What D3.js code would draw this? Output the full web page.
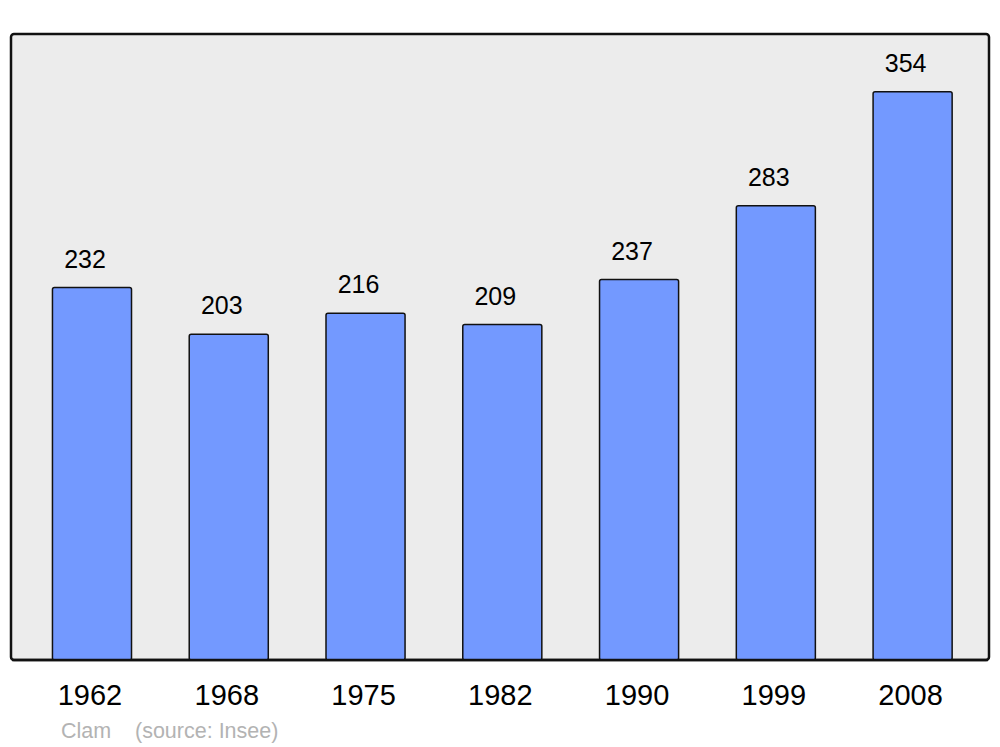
<!DOCTYPE html>
<html>
<head>
<meta charset="utf-8">
<script src="https://cdn.jsdelivr.net/npm/d3@7"></script>
<style>
html,body{margin:0;padding:0;background:#fff;}
svg{display:block;}
text{font-family:"Liberation Sans",Arial,sans-serif;}
</style>
</head>
<body>
<svg id="chart" width="1000" height="747"></svg>
<script>
const years = ["1962","1968","1975","1982","1990","1999","2008"];
const population = [232,203,216,209,237,283,354];
const sourceLabel = "Clam";
const sourceNote = "(source: Insee)";

const svg = d3.select("#chart");
const panel = {x0: 11, x1: 989, y0: 34, y1: 660};

svg.append("rect")
  .attr("x", panel.x0).attr("y", panel.y0)
  .attr("width", panel.x1 - panel.x0).attr("height", panel.y1 - panel.y0)
  .attr("rx", 3).attr("ry", 3)
  .attr("fill", "#ececec").attr("stroke", "#111").attr("stroke-width", 2.5);

const x = d3.scaleBand().domain(years).range([23.6, 981]).paddingInner(0.422).paddingOuter(0.211);
const y = d3.scaleLinear().domain([0, 390]).range([panel.y1, panel.y0]);

const data = years.map((yr, i) => ({year: yr, value: population[i]}));

svg.selectAll("rect.bar").data(data).enter().append("rect")
  .attr("class", "bar")
  .attr("x", d => x(d.year)).attr("y", d => y(d.value))
  .attr("width", x.bandwidth()).attr("height", d => y(0) - y(d.value))
  .attr("rx", 2).attr("ry", 2)
  .attr("fill", "#7399ff").attr("stroke", "#111").attr("stroke-width", 1.5);

svg.selectAll("text.val").data(data).enter().append("text")
  .attr("class", "val")
  .attr("x", d => x(d.year) + x.bandwidth() / 2 - 7)
  .attr("y", d => y(d.value) - 20)
  .attr("text-anchor", "middle")
  .attr("font-size", 25).attr("fill", "#000")
  .text(d => d.value);

svg.append("line")
  .attr("x1", panel.x0 + 1).attr("x2", panel.x1 - 1)
  .attr("y1", panel.y1).attr("y2", panel.y1)
  .attr("stroke", "#111").attr("stroke-width", 2.5);

const xAxis = d3.axisBottom(x).tickSize(0).tickPadding(0);
const gx = svg.append("g").attr("transform", `translate(-2,${705})`).call(xAxis);
gx.select(".domain").remove();
gx.selectAll("text")
  .attr("dy", 0).attr("y", 0)
  .attr("font-size", 29).attr("fill", "#000")
  .attr("font-family", "'Liberation Sans',Arial,sans-serif");

svg.append("text").attr("x", 61).attr("y", 738)
  .attr("font-size", 21.5).attr("fill", "#b3b3b3").text(sourceLabel);
svg.append("text").attr("x", 135).attr("y", 738)
  .attr("font-size", 21.5).attr("fill", "#b3b3b3").text(sourceNote);
</script>
</body>
</html>
